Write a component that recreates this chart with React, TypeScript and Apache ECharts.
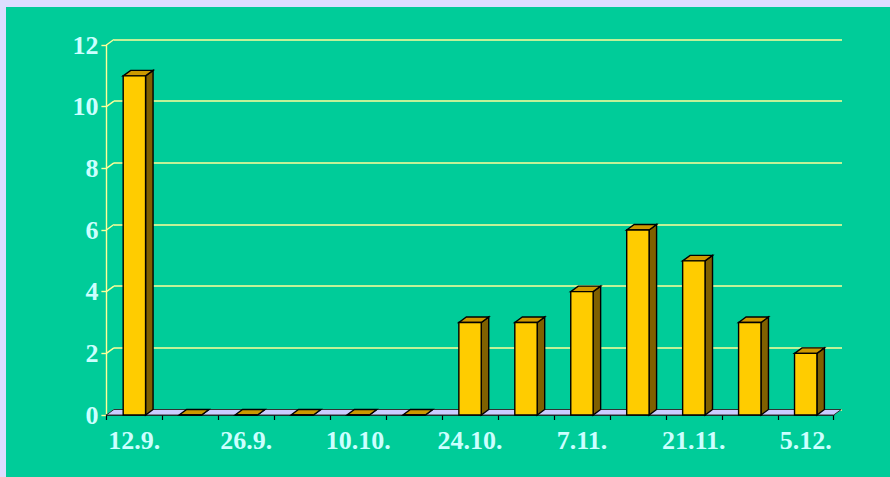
import React, { useEffect, useRef } from "react";
import * as echarts from "echarts";

// Weekly counts
const categories = [
  "12.9.", "19.9.", "26.9.", "3.10.", "10.10.", "17.10.", "24.10.",
  "31.10.", "7.11.", "14.11.", "21.11.", "28.11.", "5.12.",
];
const counts = [11, 0, 0, 0, 0, 0, 3, 3, 4, 6, 5, 3, 2];
const yTicks = [0, 2, 4, 6, 8, 10, 12];

// 3D depth offset of the back wall
const DX = 7.5;
const DY = -5.5;

const FRONT = "#FFCC00";
const TOP = "#CC9900";
const SIDE = "#7F6000";
const GRID_LINE = "#FFFF99";
const LABEL = "#CCFFFF";
const FLOOR = "#CCCCFF";
const FONT = '"Liberation Serif", "Times New Roman", serif';

export default function App() {
  const ref = useRef<HTMLDivElement>(null);

  useEffect(() => {
    if (!ref.current) return;
    const chart = echarts.init(ref.current, undefined, { renderer: "svg" });
    const n = categories.length;
    const yMax = yTicks[yTicks.length - 1];
    const yStep = yTicks[1] - yTicks[0];

    const renderBar = (_p: any, api: any) => {
      const idx = api.value(0);
      const v = api.value(1);
      const base = api.coord([idx, 0]);
      const top = api.coord([idx, v]);
      const w = api.size([1, 0])[0] * 0.4;
      const x0 = base[0] - w / 2;
      const x1 = base[0] + w / 2;
      const yb = base[1];
      const yt = top[1];
      const stroke = { stroke: "#000", lineWidth: 1.4 };
      return {
        type: "group",
        children: [
          {
            type: "polygon",
            shape: { points: [[x1, yt], [x1 + DX, yt + DY], [x1 + DX, yb + DY], [x1, yb]] },
            style: { fill: SIDE, ...stroke },
          },
          {
            type: "polygon",
            shape: { points: [[x0, yt], [x1, yt], [x1 + DX, yt + DY], [x0 + DX, yt + DY]] },
            style: { fill: TOP, ...stroke },
          },
          {
            type: "rect",
            shape: { x: x0, y: yt, width: w, height: yb - yt },
            style: { fill: FRONT, ...stroke },
          },
        ],
      };
    };

    const renderFloor = (_p: any, api: any) => {
      const size = api.size([1, 0])[0];
      const l = api.coord([0, 0]);
      const r = api.coord([n - 1, 0]);
      const x0 = l[0] - size / 2;
      const x1 = r[0] + size / 2;
      const y = l[1];
      return {
        type: "polygon",
        shape: { points: [[x0, y], [x1, y], [x1 + DX, y + DY], [x0 + DX, y + DY]] },
        style: { fill: FLOOR, stroke: "#333", lineWidth: 1 },
      };
    };

    const renderConnector = (_p: any, api: any) => {
      const size = api.size([1, 0])[0];
      const p = api.coord([0, api.value(1)]);
      const x = p[0] - size / 2;
      return {
        type: "line",
        shape: { x1: x, y1: p[1], x2: x + DX, y2: p[1] + DY },
        style: { stroke: GRID_LINE, lineWidth: 1.4 },
      };
    };

    chart.setOption({
      animation: false,
      backgroundColor: "#00CC99",
      grid: [
        { left: 100.4, right: 56.3, top: 38, bottom: 62 },
        { left: 107.9, right: 48, top: 32.5, bottom: 67.5 },
      ],
      xAxis: [
        {
          type: "category",
          data: categories,
          gridIndex: 0,
          axisLine: { lineStyle: { color: "#000", width: 1.5 } },
          axisTick: { show: true, interval: 0, length: 5, lineStyle: { color: "#000", width: 1.2 } },
          axisLabel: {
            interval: 1,
            color: LABEL,
            fontSize: 26,
            fontWeight: "bold",
            fontFamily: FONT,
            margin: 12,
          },
        },
        {
          type: "category",
          data: categories,
          gridIndex: 1,
          show: false,
        },
      ],
      yAxis: [
        {
          type: "value",
          gridIndex: 0,
          min: 0,
          max: yMax,
          interval: yStep,
          axisLine: { show: true, lineStyle: { color: GRID_LINE, width: 1.4 } },
          axisTick: { show: true, length: 5, lineStyle: { color: GRID_LINE, width: 1.4 } },
          splitLine: { show: false },
          axisLabel: {
            color: LABEL,
            fontSize: 26,
            fontWeight: "bold",
            fontFamily: FONT,
            margin: 8,
          },
        },
        {
          type: "value",
          gridIndex: 1,
          min: 0,
          max: yMax,
          interval: yStep,
          axisLine: { show: false },
          axisTick: { show: false },
          axisLabel: { show: false },
          splitLine: { show: true, lineStyle: { color: GRID_LINE, width: 1.6 } },
        },
      ],
      series: [
        {
          type: "custom",
          xAxisIndex: 0,
          yAxisIndex: 0,
          data: yTicks.filter((v) => v > 0).map((v) => [0, v]),
          renderItem: renderConnector,
          z: 1,
          silent: true,
        },
        {
          type: "custom",
          xAxisIndex: 0,
          yAxisIndex: 0,
          data: [[0, 0]],
          renderItem: renderFloor,
          z: 2,
          silent: true,
        },
        {
          type: "custom",
          xAxisIndex: 0,
          yAxisIndex: 0,
          data: counts.map((v, i) => [i, v]),
          renderItem: renderBar,
          z: 3,
        },
      ],
    });

    return () => chart.dispose();
  }, []);

  return (
    <div
      style={{
        position: "fixed",
        left: 0,
        top: 0,
        width: 890,
        height: 477,
        background: "#DDDDFF",
      }}
    >
      <div
        ref={ref}
        style={{ position: "absolute", left: 6, top: 7, width: 884, height: 470 }}
      />
    </div>
  );
}
